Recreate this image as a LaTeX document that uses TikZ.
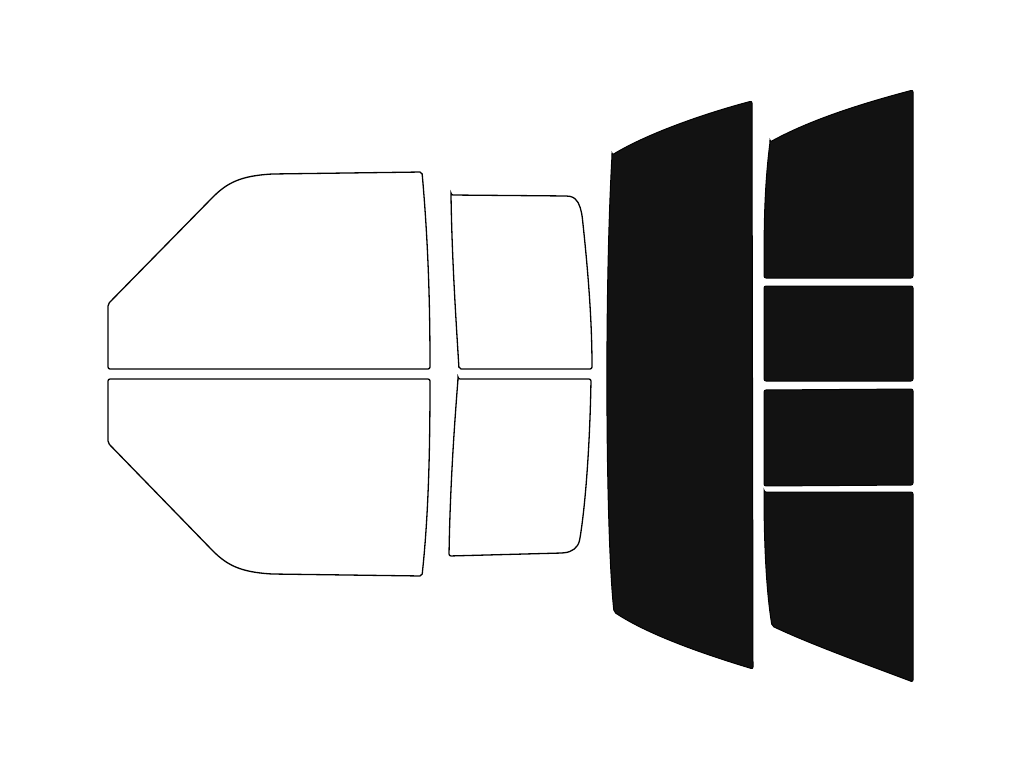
\documentclass[tikz,border=0pt]{standalone}
\begin{document}
\begin{tikzpicture}[x=1pt,y=-1pt,
 win/.style={draw=black,line width=1.3pt,fill=white,rounded corners=2pt},
 tint/.style={draw=black,line width=1pt,fill=black!93,rounded corners=2pt}]
\useasboundingbox (0,0) rectangle (1024,768);
% front door
\draw[win] (108,369) -- (108,304) -- (212,198) .. controls (228,182) and (242,176) .. (272,174) -- (422,172) .. controls (428,240) and (430,300) .. (430,369) -- cycle;
\draw[win] (108,379) -- (430,379) .. controls (430,460) and (428,520) .. (422,576) -- (272,574) .. controls (242,572) and (228,566) .. (212,550) -- (108,443) -- cycle;
% rear door
\draw[win] (451,195) -- (568,196) .. controls (578,198) and (580,206) .. (582,215) .. controls (588,270) and (592,320) .. (592,369) -- (459,369) .. controls (456,320) and (452,260) .. (451,195) -- cycle;
\draw[win] (458,379) -- (591,379) .. controls (590,440) and (586,500) .. (580,538) .. controls (578,548) and (572,552) .. (562,553) -- (449,556) .. controls (450,490) and (454,430) .. (458,379) -- cycle;
% back window
\draw[tint] (612,155) .. controls (650,132) and (710,112) .. (752,101) -- (753,669) .. controls (710,656) and (650,636) .. (614,612) .. controls (606,540) and (604,300) .. (612,155) -- cycle;
% right column
\draw[tint] (770,142) .. controls (810,120) and (860,104) .. (913,90) -- (913,278) -- (764,278) .. controls (764,230) and (764,190) .. (770,142) -- cycle;
\draw[tint] (764,286) -- (913,286) -- (913,381) -- (764,381) -- cycle;
\draw[tint] (764,390) -- (913,389) -- (913,485) -- (764,486) -- cycle;
\draw[tint] (764,492) -- (913,492) -- (913,682) .. controls (860,662) and (810,644) .. (772,626) .. controls (766,590) and (764,540) .. (764,492) -- cycle;
\end{tikzpicture}
\end{document}
